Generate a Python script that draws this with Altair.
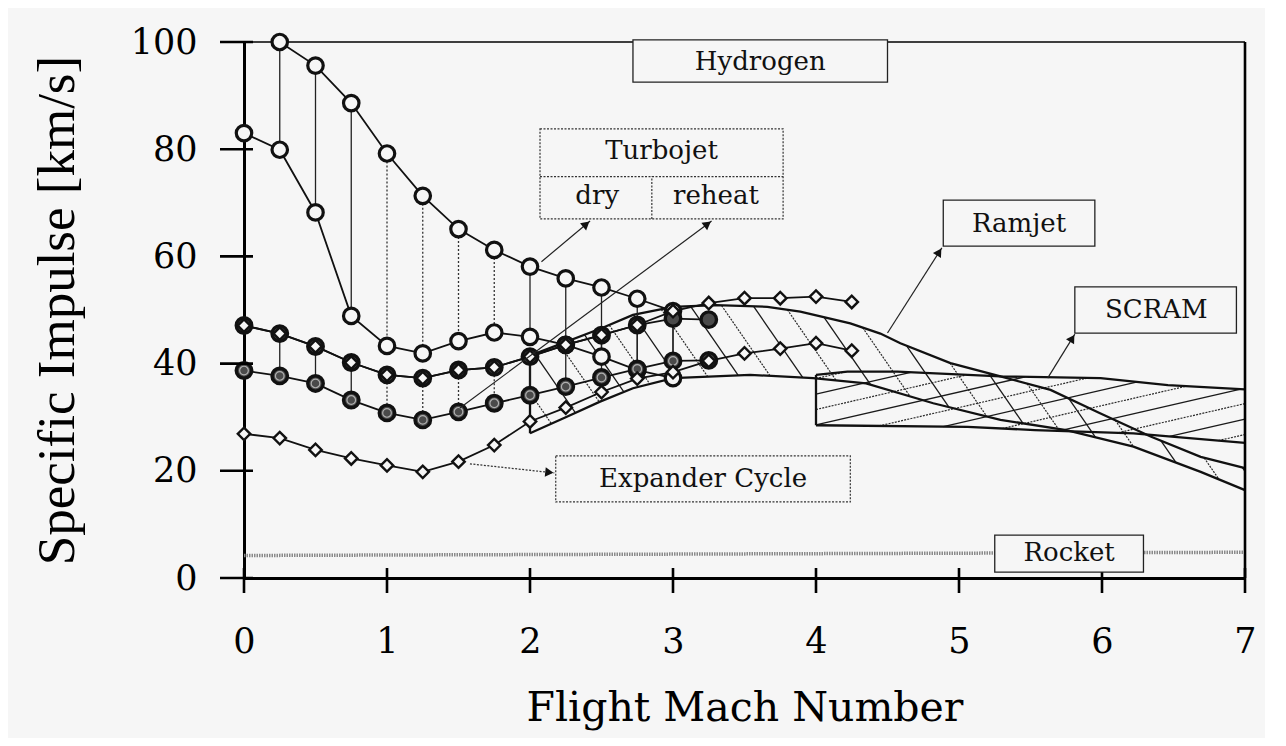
import altair as alt
import numpy as np
import pandas as pd

BG = "#f6f6f6"
SERIF = "DejaVu Serif"

# ---------------- data ----------------
mach = [0.0, 0.25, 0.5, 0.75, 1.0, 1.25, 1.5, 1.75, 2.0, 2.25, 2.5, 2.75,
        3.0, 3.25, 3.5, 3.75, 4.0, 4.25]

dry_upper_mach = mach[1:13]
dry_upper = [100.0, 95.6, 88.6, 79.2, 71.3, 65.1, 61.2, 58.1, 55.9, 54.2, 52.1, 49.8]

dry_lower_mach = mach[0:13]
dry_lower = [83.0, 79.9, 68.2, 48.9, 43.3, 41.9, 44.2, 45.8, 45.0, 43.5, 41.3, 38.8, 37.3]

reheat_upper_mach = mach[0:14]
reheat_upper = [47.1, 45.6, 43.2, 40.2, 37.9, 37.3, 38.8, 39.3, 41.3, 43.5, 45.3, 47.2, 48.4, 48.2]

reheat_lower_mach = mach[0:14]
reheat_lower = [38.7, 37.7, 36.3, 33.2, 30.8, 29.5, 31.0, 32.6, 34.1, 35.7, 37.4, 39.0, 40.5, 40.6]

exp_upper_mach = mach
exp_upper = [47.1, 45.6, 43.2, 40.2, 37.9, 37.3, 38.8, 39.3, 41.3, 43.5, 45.3, 47.2,
             49.8, 51.3, 52.2, 52.2, 52.5, 51.5]

exp_lower_mach = mach
exp_lower = [26.9, 26.1, 23.9, 22.3, 21.0, 19.8, 21.7, 24.8, 29.2, 31.8, 34.7, 37.2,
             38.4, 40.5, 41.9, 42.8, 43.8, 42.4]

ram_up_mach = [2.0, 2.5, 2.72, 3.0, 3.3, 3.66, 3.89, 4.24, 4.45, 4.59, 4.94, 5.29,
               5.64, 5.99, 6.34, 6.69, 7.0]
ram_up = [41.5, 46.6, 49.1, 50.6, 50.9, 50.6, 49.7, 47.5, 45.6, 43.8, 40.1, 37.6,
          35.1, 30.7, 26.4, 22.6, 20.5]
ram_lo_mach = [2.0, 2.25, 2.49, 2.72, 3.0, 3.54, 3.98, 4.35, 4.82, 5.29, 5.75, 6.22, 6.69, 7.0]
ram_lo = [27.0, 30.0, 32.9, 35.4, 37.3, 37.9, 37.3, 36.3, 32.6, 29.5, 27.6, 24.5, 19.8, 16.4]

scram_up_mach = [4.0, 4.22, 4.57, 5.29, 5.99, 6.46, 7.0]
scram_up = [37.9, 38.5, 38.5, 37.6, 37.3, 36.0, 35.2]
scram_lo_mach = [4.0, 5.06, 5.53, 6.22, 7.0]
scram_lo = [28.5, 28.2, 27.6, 27.0, 25.2]

rocket_mach = [0.0, 7.0]
rocket = [4.2, 4.8]

x_ticks = [0, 1, 2, 3, 4, 5, 6, 7]
y_ticks = [0, 20, 40, 60, 80, 100]

# label boxes: name, x0, x1, y0, y1, dotted
box_names = ["Hydrogen", "Turbojet", "Ramjet", "SCRAM", "Expander", "Rocket"]
box_x0 = [2.72, 2.07, 4.89, 5.81, 2.18, 5.25]
box_x1 = [4.50, 3.77, 5.95, 6.94, 4.24, 6.29]
box_y0 = [92.5, 67.0, 61.9, 45.7, 14.2, 1.1]
box_y1 = [100.4, 83.8, 70.5, 54.3, 22.8, 8.0]
box_dotted = [False, True, False, False, True, False]

label_text = ["Hydrogen", "Turbojet", "dry", "reheat", "Ramjet", "SCRAM", "Expander Cycle", "Rocket"]
label_x = [3.61, 2.92, 2.47, 3.30, 5.42, 6.38, 3.21, 5.77]
label_y = [96.3, 79.6, 71.3, 71.3, 66.1, 50.0, 18.4, 4.6]

# arrows: from (ax0, ay0) to tip (ax1, ay1)
arrow_x0 = [2.08, 1.51, 4.50, 5.62, 1.58]
arrow_y0 = [59.0, 31.7, 45.7, 37.3, 21.3]
arrow_x1 = [2.42, 3.27, 4.88, 5.81, 2.17]
arrow_y1 = [66.6, 66.6, 61.6, 45.5, 19.6]
arrow_dotted = [False, False, False, False, True]

# ---------------- geometry helpers ----------------
W, H = 1001, 536
PXX = W / 7.0
PXY = H / 100.0

xs = alt.Scale(domain=[0, 7], nice=False, zero=False)
ys = alt.Scale(domain=[0, 100], nice=False, zero=False)

AX_X = alt.Axis(values=x_ticks, ticks=False, grid=False, domainColor="black", domainWidth=3,
                labelFont=SERIF, labelFontSize=35, labelColor="black", labelPadding=46,
                labelFlush=False,
                title="Flight Mach Number", titleFont=SERIF, titleFontSize=41,
                titleFontWeight="normal", titleColor="black", titlePadding=29)
AX_Y = alt.Axis(values=y_ticks, ticks=False, grid=False, domainColor="black", domainWidth=3,
                labelFont=SERIF, labelFontSize=35, labelColor="black", labelPadding=47,
                labelFlush=False,
                title="Specific Impulse [km/s]", titleFont="Liberation Serif", titleFontSize=53,
                titleFontWeight="normal", titleColor="black", titlePadding=46)


def X(f):
    return alt.X(f, type="quantitative", scale=xs, axis=AX_X)


def Y(f):
    return alt.Y(f, type="quantitative", scale=ys, axis=AX_Y)


def hatch(up_m, up_v, lo_m, lo_v, x0, x1, slope, spacing, ref_y, prefix):
    grid = np.linspace(x0, x1, 3001)
    up = np.interp(grid, up_m, up_v)
    lo = np.interp(grid, lo_m, lo_v)
    rows = []
    span = 60.0 / abs(slope)
    k = 0
    for m0 in np.arange(x0 - span, x1 + span, spacing):
        yv = ref_y + slope * (grid - m0)
        inside = (yv >= lo) & (yv <= up)
        idx = np.where(inside)[0]
        if len(idx) > 1:
            runs = np.split(idx, np.where(np.diff(idx) > 1)[0] + 1)
            for r in runs:
                if len(r) < 2:
                    continue
                sid = f"{prefix}{k}"
                rows.append({"seg": sid, "m": grid[r[0]], "v": yv[r[0]], "dot": k % 2 == 1})
                rows.append({"seg": sid, "m": grid[r[-1]], "v": yv[r[-1]], "dot": k % 2 == 1})
        k += 1
    return pd.DataFrame(rows)


ram_slope = -1.45 * PXX / PXY
scram_slope = 0.23 * PXX / PXY
hatch_ram = hatch(ram_up_mach, ram_up, ram_lo_mach, ram_lo, 2.0, 7.0, ram_slope, 0.22, 35.0, "r")
hatch_scram = hatch(scram_up_mach, scram_up, scram_lo_mach, scram_lo, 4.0, 7.0, scram_slope, 0.47, 32.0, "s")

layers = []

# hatch lines
for df, name in [(hatch_ram, "r"), (hatch_scram, "s")]:
    layers.append(alt.Chart(df[~df["dot"]]).mark_line(color="#1a1a1a", strokeWidth=1.3).encode(
        x=X("m"), y=Y("v"), detail="seg:N"))
    layers.append(alt.Chart(df[df["dot"]]).mark_line(color="#2a2a2a", strokeWidth=1.2, strokeDash=[2, 1.2]).encode(
        x=X("m"), y=Y("v"), detail="seg:N"))

# band boundaries
bounds = pd.concat([
    pd.DataFrame({"b": "ram_up", "m": ram_up_mach, "v": ram_up}),
    pd.DataFrame({"b": "ram_lo", "m": ram_lo_mach, "v": ram_lo}),
    pd.DataFrame({"b": "scram_up", "m": scram_up_mach, "v": scram_up}),
    pd.DataFrame({"b": "scram_lo", "m": scram_lo_mach, "v": scram_lo}),
])
layers.append(alt.Chart(bounds).mark_line(color="#111", strokeWidth=2.3).encode(
    x=X("m"), y=Y("v"), detail="b:N"))
edges = pd.DataFrame({"m": [ram_up_mach[0], scram_up_mach[0]],
                      "lo": [ram_lo[0], scram_lo[0]], "hi": [ram_up[0], scram_up[0]]})
layers.append(alt.Chart(edges).mark_rule(color="#111", strokeWidth=2.3).encode(
    x=X("m"), y=Y("lo"), y2="hi"))

# rocket line
layers.append(alt.Chart(pd.DataFrame({"m": rocket_mach, "v": rocket})).mark_line(
    color="#8a8a8a", strokeWidth=3.5, strokeDash=[1.5, 1]).encode(x=X("m"), y=Y("v")))

# frame (top and right)
frame = pd.DataFrame({"x0": [0, 7], "x1": [7, 7], "y0": [100, 0], "y1": [100, 100]})
layers.append(alt.Chart(frame.iloc[[0]]).mark_rule(color="black", strokeWidth=1.6).encode(
    x=X("x0"), x2="x1", y=Y("y0"), y2="y1"))
layers.append(alt.Chart(frame.iloc[[1]]).mark_rule(color="black", strokeWidth=2.6).encode(
    x=X("x0"), x2="x1", y=Y("y0"), y2="y1"))

# vertical connectors
dry_hi_map = dict(zip(dry_upper_mach, dry_upper))
dry_lo_map = dict(zip(dry_lower_mach, dry_lower))
rh_hi_map = dict(zip(reheat_upper_mach, reheat_upper))
rh_lo_map = dict(zip(reheat_lower_mach, reheat_lower))
vrows = []
for m in mach[1:13]:
    dotted = 1.0 <= m <= 1.75
    vrows.append({"m": m, "a": dry_hi_map[m], "b": dry_lo_map[m], "dot": dotted})
    vrows.append({"m": m, "a": rh_hi_map[m], "b": rh_lo_map[m], "dot": dotted})
vert = pd.DataFrame(vrows)
layers.append(alt.Chart(vert[~vert["dot"]]).mark_rule(color="#222", strokeWidth=1.3).encode(
    x=X("m"), y=Y("a"), y2="b"))
layers.append(alt.Chart(vert[vert["dot"]]).mark_rule(color="#333", strokeWidth=1.3, strokeDash=[2, 2]).encode(
    x=X("m"), y=Y("a"), y2="b"))

# series lines
series = pd.concat([
    pd.DataFrame({"s": "dry_upper", "m": dry_upper_mach, "v": dry_upper}),
    pd.DataFrame({"s": "dry_lower", "m": dry_lower_mach, "v": dry_lower}),
    pd.DataFrame({"s": "reheat_upper", "m": reheat_upper_mach, "v": reheat_upper}),
    pd.DataFrame({"s": "reheat_lower", "m": reheat_lower_mach, "v": reheat_lower}),
    pd.DataFrame({"s": "exp_upper", "m": exp_upper_mach, "v": exp_upper}),
    pd.DataFrame({"s": "exp_lower", "m": exp_lower_mach, "v": exp_lower}),
])
layers.append(alt.Chart(series).mark_line(color="#111", strokeWidth=1.8).encode(
    x=X("m"), y=Y("v"), detail="s:N"))

# markers
open_c = series[series["s"].isin(["dry_upper", "dry_lower"])]
dark_c = series[series["s"].isin(["reheat_upper", "reheat_lower"])]
dark_lo = series[series["s"] == "reheat_lower"]
dia = series[series["s"].isin(["exp_upper", "exp_lower"])]
layers.append(alt.Chart(open_c).mark_point(shape="circle", size=240, filled=True, fill=BG,
                                           stroke="#111", strokeWidth=3.2, opacity=1).encode(
    x=X("m"), y=Y("v")))
layers.append(alt.Chart(dark_c).mark_point(shape="circle", size=240, filled=True, fill="#4a4a4a",
                                           stroke="#111", strokeWidth=3.4, opacity=1).encode(
    x=X("m"), y=Y("v")))
layers.append(alt.Chart(dark_lo).mark_point(shape="circle", size=75, filled=False,
                                            stroke="#b0b0b0", strokeWidth=1.2, opacity=1).encode(
    x=X("m"), y=Y("v")))
layers.append(alt.Chart(dia).mark_point(shape="diamond", size=155, filled=True, fill=BG,
                                        stroke="#111", strokeWidth=2.4, opacity=1).encode(
    x=X("m"), y=Y("v")))

# crossing ticks
layers.append(alt.Chart(pd.DataFrame({"t": x_ticks})).mark_rule(color="black", strokeWidth=2.6).encode(
    x=X("t"), y=alt.value(H - 10), y2=alt.value(H + 15)))
layers.append(alt.Chart(pd.DataFrame({"t": y_ticks})).mark_rule(color="black", strokeWidth=2.6).encode(
    y=Y("t"), x=alt.value(-24), x2=alt.value(9)))

# boxes
boxes = pd.DataFrame({"name": box_names, "x0": box_x0, "x1": box_x1, "y0": box_y0,
                      "y1": box_y1, "dot": box_dotted})
layers.append(alt.Chart(boxes[~boxes["dot"]]).mark_rect(fill=BG, stroke="#222", strokeWidth=1.3).encode(
    x=X("x0"), x2="x1", y=Y("y0"), y2="y1"))
layers.append(alt.Chart(boxes[boxes["dot"]]).mark_rect(fill=BG, stroke="#333", strokeWidth=1.2,
                                                       strokeDash=[2, 1.5]).encode(
    x=X("x0"), x2="x1", y=Y("y0"), y2="y1"))
# turbojet subdivision
tj = box_names.index("Turbojet")
mid_y = (box_y0[tj] + box_y1[tj]) / 2 - 0.5
split_x = box_x0[tj] + 0.46 * (box_x1[tj] - box_x0[tj])
div = pd.DataFrame({"x0": [box_x0[tj], split_x], "x1": [box_x1[tj], split_x],
                    "y0": [mid_y, box_y0[tj]], "y1": [mid_y, mid_y]})
layers.append(alt.Chart(div).mark_rule(color="#333", strokeWidth=1.2, strokeDash=[2, 1.5]).encode(
    x=X("x0"), x2="x1", y=Y("y0"), y2="y1"))

# labels
labels = pd.DataFrame({"t": label_text, "m": label_x, "v": label_y})
layers.append(alt.Chart(labels).mark_text(font=SERIF, fontSize=26, color="#111", align="center",
                                          baseline="middle").encode(
    x=X("m"), y=Y("v"), text="t:N"))

# arrows
ang = []
hx, hy = [], []
for x0, y0, x1, y1 in zip(arrow_x0, arrow_y0, arrow_x1, arrow_y1):
    dxp = (x1 - x0) * PXX
    dyp = -(y1 - y0) * PXY
    a = np.degrees(np.arctan2(dxp, -dyp)) % 360
    ang.append(float(a))
    L = np.hypot(dxp, dyp)
    back = 5.0
    hx.append(x1 - dxp / L * back / PXX)
    hy.append(y1 + dyp / L * back / PXY)
arrows = pd.DataFrame({"x0": arrow_x0, "y0": arrow_y0, "x1": arrow_x1, "y1": arrow_y1,
                       "dot": arrow_dotted, "ang": ang, "hx": hx, "hy": hy})
layers.append(alt.Chart(arrows[~arrows["dot"]]).mark_rule(color="#222", strokeWidth=1.2).encode(
    x=X("x0"), x2="x1", y=Y("y0"), y2="y1"))
layers.append(alt.Chart(arrows[arrows["dot"]]).mark_rule(color="#333", strokeWidth=1.2, strokeDash=[2, 1.5]).encode(
    x=X("x0"), x2="x1", y=Y("y0"), y2="y1"))
layers.append(alt.Chart(arrows).mark_point(shape="triangle-up", size=90, filled=True, color="#111",
                                           opacity=1).encode(
    x=X("hx"), y=Y("hy"), angle=alt.Angle("ang:Q", scale=None)))

chart = alt.layer(*layers).properties(
    width=W, height=H,
    autosize=alt.AutoSizeParams(type="none"),
    padding={"left": 236, "top": 34, "right": 20, "bottom": 160},
    background=BG,
).configure_view(stroke=None)

chart.save("out.html", embed_options={"renderer": "svg", "actions": False})
